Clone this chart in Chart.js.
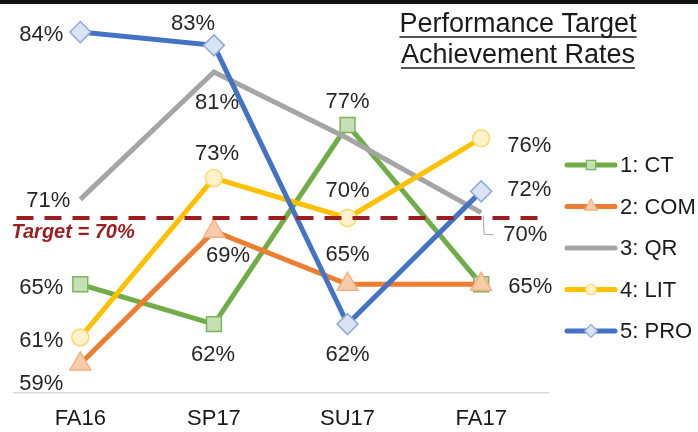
<!DOCTYPE html>
<html>
<head>
<meta charset="utf-8">
<script src="https://cdn.jsdelivr.net/npm/chart.js@4/dist/chart.umd.min.js"></script>
<style>
  html, body { margin: 0; padding: 0; background: #fff; }
  #myChart { display: block; }
</style>
</head>
<body>
<canvas id="myChart" width="698" height="432"></canvas>
<script>
// data
var terms = ['FA16', 'SP17', 'SU17', 'FA17'];
var ct  = [65, 62, 77, 65];
var com = [59, 69, 65, 65];
var qr  = [71.4, 81, 76, 70.4];
var lit = [61, 73, 70, 76];
var pro = [84, 83, 62, 72];
var target = 70;
var names = ['1: CT', '2: COM', '3: QR', '4: LIT', '5: PRO'];

// where each value label sits, relative to its point (null = no label)
var ctLbl  = [[-39, 4], [-1, 31], [0, -23], null];
var comLbl = [[-39, 20], [14, 25], [0, -29], [49, 3]];
var qrLbl  = [[-32, 2], [3, 31], null, [44, 22]];
var litLbl = [[-39, 4], [3, -24], [0, -27], [48, 8]];
var proLbl = [[-39, 3], [-21, -21], [0, 31], [48, -1]];

var FONT = '"Liberation Sans", Arial, sans-serif';

function serie(label, data, color, style, radius, fill, edge, order, lbl) {
  return {
    label: label,
    data: data,
    borderColor: color,
    backgroundColor: color,
    borderWidth: 5,
    tension: 0,
    pointStyle: style,
    pointRadius: radius,
    pointHoverRadius: radius,
    pointBackgroundColor: fill,
    pointBorderColor: edge,
    pointBorderWidth: 1.5,
    order: order,
    lbl: lbl
  };
}

var datasets = [
  serie(names[0], ct,  '#70AD47', 'rect',     10.5, '#C5E0B4', '#7FB25A', 5, ctLbl),
  serie(names[1], com, '#ED7D31', 'triangle', 12,   '#F8CBAD', '#F4B183', 4, comLbl),
  serie(names[2], qr,  '#A5A5A5', 'circle',   0,    '#A5A5A5', '#A5A5A5', 3, qrLbl),
  serie(names[3], lit, '#FFC000', 'circle',   8.5,  '#FFF2CC', '#FFD966', 2, litLbl),
  serie(names[4], pro, '#4472C4', 'rectRot',  10.5, '#DAE3F3', '#8FAADC', 1, proLbl)
];

var extras = {
  id: 'extras',
  afterDatasetsDraw: function(chart) {
    var ctx = chart.ctx;
    var area = chart.chartArea;
    var y = chart.scales.y.getPixelForValue(target);

    // target line
    ctx.save();
    ctx.strokeStyle = '#9C1C1F';
    ctx.lineWidth = 4;
    ctx.setLineDash([17, 11]);
    ctx.beginPath();
    ctx.moveTo(area.left + 3, y);
    ctx.lineTo(area.right, y);
    ctx.stroke();
    ctx.setLineDash([]);
    ctx.fillStyle = '#9C1C1F';
    ctx.font = 'italic bold 20px ' + FONT;
    ctx.textAlign = 'left';
    ctx.textBaseline = 'middle';
    ctx.fillText('Target = ' + target + '%', area.left - 2, y + 15);
    ctx.restore();

    // value labels
    ctx.save();
    ctx.font = '22px ' + FONT;
    ctx.fillStyle = '#262626';
    ctx.textAlign = 'center';
    ctx.textBaseline = 'middle';
    chart.data.datasets.forEach(function(ds, i) {
      var meta = chart.getDatasetMeta(i);
      meta.data.forEach(function(pt, j) {
        var o = ds.lbl[j];
        if (!o) return;
        ctx.fillText(Math.round(ds.data[j]) + '%', pt.x + o[0], pt.y + o[1]);
      });
    });
    // leader line for QR FA17
    var q = chart.getDatasetMeta(2).data[3];
    ctx.strokeStyle = '#A5A5A5';
    ctx.lineWidth = 1;
    ctx.beginPath();
    ctx.moveTo(q.x + 2, q.y + 3);
    ctx.lineTo(q.x + 3, q.y + 22);
    ctx.lineTo(q.x + 12, q.y + 22);
    ctx.stroke();
    ctx.restore();
  },
  afterDraw: function(chart) {
    var ctx = chart.ctx;
    ctx.save();

    // title
    ctx.fillStyle = '#1a1a1a';
    ctx.strokeStyle = '#1a1a1a';
    ctx.font = '27px ' + FONT;
    ctx.textAlign = 'center';
    ctx.textBaseline = 'alphabetic';
    var lines = ['Performance Target', 'Achievement Rates'];
    var base = [32, 63];
    lines.forEach(function(t, k) {
      ctx.fillText(t, 518, base[k]);
      var w = ctx.measureText(t).width;
      ctx.lineWidth = 1.5;
      ctx.beginPath();
      ctx.moveTo(518 - w / 2, base[k] + 5);
      ctx.lineTo(518 + w / 2, base[k] + 5);
      ctx.stroke();
    });

    // legend
    ctx.font = '22px ' + FONT;
    ctx.textAlign = 'left';
    ctx.textBaseline = 'middle';
    chart.data.datasets.forEach(function(ds, i) {
      var ly = 165 + i * 41.5;
      ctx.strokeStyle = ds.borderColor;
      ctx.lineWidth = 5;
      ctx.lineCap = 'round';
      ctx.beginPath();
      ctx.moveTo(567, ly);
      ctx.lineTo(615, ly);
      ctx.stroke();
      if (ds.pointRadius > 0) {
        ctx.fillStyle = ds.pointBackgroundColor;
        ctx.strokeStyle = ds.pointBorderColor;
        ctx.lineWidth = 1.2;
        Chart.helpers.drawPoint(ctx, {
          pointStyle: ds.pointStyle,
          radius: ds.pointRadius * 0.62,
          rotation: 0,
          borderWidth: 1.2
        }, 591, ly);
      }
      ctx.fillStyle = '#1a1a1a';
      ctx.fillText(ds.label, 620, ly + 1);
    });

    // dark strip along the top edge of the picture
    ctx.fillStyle = '#111';
    ctx.fillRect(0, 0, chart.width, 4);
    ctx.restore();
  }
};

var canvas = document.getElementById('myChart');
var myChart = new Chart(canvas.getContext('2d'), {
  type: 'line',
  data: { labels: terms, datasets: datasets },
  options: {
    responsive: false,
    animation: false,
    layout: { padding: { left: 7, right: 150, top: 5, bottom: -13 } },
    plugins: {
      legend: { display: false },
      title: { display: false },
      tooltip: { enabled: false }
    },
    scales: {
      x: {
        offset: true,
        grid: { display: false, drawTicks: false },
        border: { display: true, color: '#D9D9D9', width: 1.5 },
        ticks: { color: '#1a1a1a', padding: 13, font: { size: 22, family: FONT } }
      },
      y: {
        display: false,
        min: 56.84,
        max: 85.4
      }
    }
  },
  plugins: [extras]
});
</script>
</body>
</html>
